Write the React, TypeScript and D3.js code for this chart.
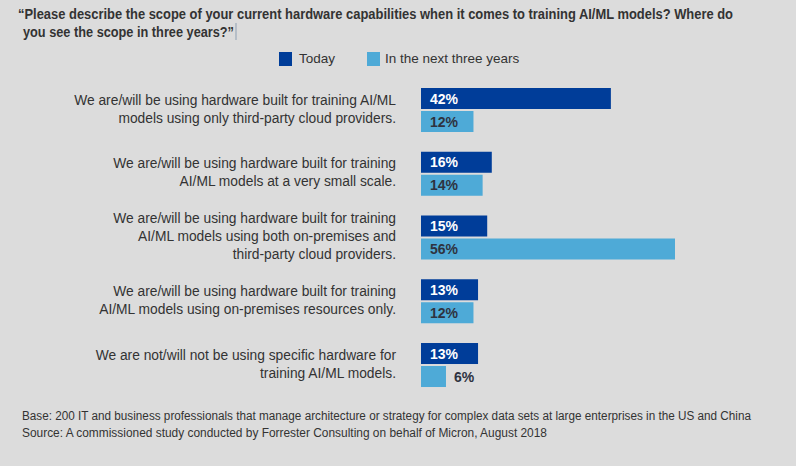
import React, { useEffect } from "react";
import * as d3 from "d3";

const titleLines = [
  "“Please describe the scope of your current hardware capabilities when it comes to training AI/ML models? Where do",
  "you see the scope in three years?”",
];
const seriesNames = ["Today", "In the next three years"];
const categories = [
  ["We are/will be using hardware built for training AI/ML", "models using only third-party cloud providers."],
  ["We are/will be using hardware built for training", "AI/ML models at a very small scale."],
  ["We are/will be using hardware built for training", "AI/ML models using both on-premises and", "third-party cloud providers."],
  ["We are/will be using hardware built for training", "AI/ML models using on-premises resources only."],
  ["We are not/will not be using specific hardware for", "training AI/ML models."],
];
const todayValues = [42, 16, 15, 13, 13];
const nextValues = [12, 14, 56, 12, 6];
const footerLines = [
  "Base: 200 IT and business professionals that manage architecture or strategy for complex data sets at large enterprises in the US and China",
  "Source: A commissioned study conducted by Forrester Consulting on behalf of Micron, August 2018",
];

const W = 796;
const H = 466;
const DARK = "#003d99";
const LIGHT = "#4eaad7";
const TEXT = "#333333";
const FONT = "'Liberation Sans', Arial, Helvetica, sans-serif";

export default function App() {
  useEffect(() => {
    document.body.style.margin = "0";
  }, []);

  const x = d3.scaleLinear().domain([0, 56]).range([418.5, 675]);
  const barStart = 421;
  const y = d3
    .scaleBand<number>()
    .domain(categories.map((_, i) => i))
    .range([88, 387])
    .paddingInner(0.31)
    .paddingOuter(0);
  const barH = 21;
  const barGap = 2;

  return (
    <svg width={W} height={H} style={{ display: "block", fontFamily: FONT }}>
      <rect x={0} y={0} width={W} height={H} fill="#dcdcdc" />
      {/* Title */}
      <text x={18} y={19} fontSize={14} fontWeight="bold" fill={TEXT} textLength={715} lengthAdjust="spacingAndGlyphs">
        {titleLines[0]}
      </text>
      <text x={23} y={37} fontSize={14} fontWeight="bold" fill={TEXT} textLength={211} lengthAdjust="spacingAndGlyphs">
        {titleLines[1]}
      </text>
      <line x1={236} x2={236} y1={23} y2={40} stroke="#8fa0b3" strokeWidth={1} />

      {/* Legend */}
      <rect x={279} y={52} width={13} height={14} fill={DARK} />
      <text x={299} y={63} fontSize={13.5} fill={TEXT}>{seriesNames[0]}</text>
      <rect x={367} y={52} width={13} height={14} fill={LIGHT} />
      <text x={385} y={63} fontSize={13.5} fill={TEXT}>{seriesNames[1]}</text>

      {/* Bars */}
      {categories.map((lines, i) => {
        const y0 = y(i) as number;
        const center = y0 + (2 * barH + barGap) / 2;
        const n = lines.length;
        const tv = todayValues[i];
        const nv = nextValues[i];
        const nextW = x(nv) - barStart;
        const nextInside = nextW > 40;
        return (
          <g key={i}>
            {lines.map((ln, j) => (
              <text
                key={j}
                x={396}
                y={center + (j - (n - 1) / 2) * 18 + 3.5}
                textAnchor="end"
                fontSize={13.8}
                fill={TEXT}
              >
                {ln}
              </text>
            ))}
            <rect x={barStart} y={y0} width={x(tv) - barStart} height={barH} fill={DARK} />
            <text x={430} y={y0 + barH / 2 + 5} fontSize={14} fontWeight="bold" fill="#ffffff">
              {tv}%
            </text>
            <rect x={barStart} y={y0 + barH + barGap} width={nextW} height={barH} fill={LIGHT} />
            <text
              x={nextInside ? 430 : x(nv) + 8}
              y={y0 + barH + barGap + barH / 2 + 5}
              fontSize={14}
              fontWeight="bold"
              fill="#2e3340"
            >
              {nv}%
            </text>
          </g>
        );
      })}

      {/* Footer */}
      <text x={22} y={420} fontSize={12} fill={TEXT} textLength={729} lengthAdjust="spacingAndGlyphs">
        {footerLines[0]}
      </text>
      <text x={22} y={437} fontSize={12} fill={TEXT} textLength={525} lengthAdjust="spacingAndGlyphs">
        {footerLines[1]}
      </text>
    </svg>
  );
}
